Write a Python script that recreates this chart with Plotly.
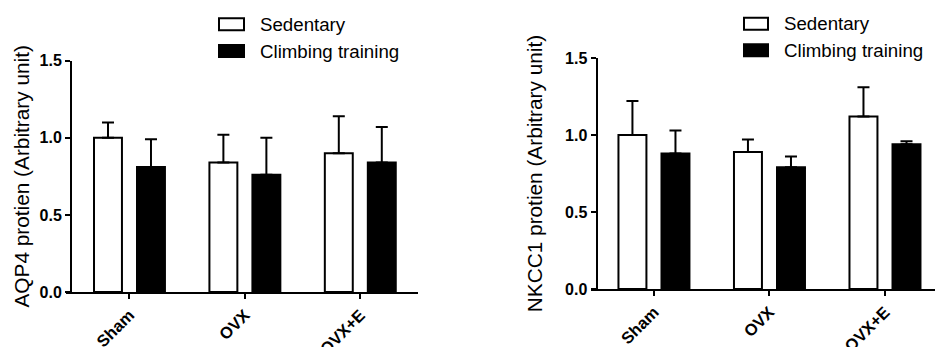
import plotly.graph_objects as go

categories = ["Sham", "OVX", "OVX+E"]
series_names = ["Sedentary", "Climbing training"]

aqp4_sed = [1.00, 0.84, 0.90]
aqp4_sed_err = [0.10, 0.18, 0.24]
aqp4_climb = [0.81, 0.76, 0.84]
aqp4_climb_err = [0.18, 0.24, 0.23]

nkcc1_sed = [1.00, 0.89, 1.12]
nkcc1_sed_err = [0.22, 0.08, 0.19]
nkcc1_climb = [0.88, 0.79, 0.94]
nkcc1_climb_err = [0.15, 0.07, 0.02]

y_ticks = [0.0, 0.5, 1.0, 1.5]
y_tick_text = ["0.0", "0.5", "1.0", "1.5"]

W, H = 935, 347
FONT = "Arial, Liberation Sans, Helvetica, sans-serif"


def px(x):
    return x / W


def py(y):
    return 1 - y / H


fig = go.Figure()

panels = [
    ("x", "y", aqp4_sed, aqp4_sed_err, aqp4_climb, aqp4_climb_err),
    ("x2", "y2", nkcc1_sed, nkcc1_sed_err, nkcc1_climb, nkcc1_climb_err),
]

for xa, ya, sed, sed_err, climb, climb_err in panels:
    fig.add_trace(go.Bar(
        x=categories, y=sed, name=series_names[0], xaxis=xa, yaxis=ya,
        marker=dict(color="white", line=dict(color="black", width=2)),
        error_y=dict(type="data", array=sed_err, arrayminus=[0] * len(sed),
                     symmetric=False, color="black", thickness=2, width=6),
        showlegend=False,
    ))
    fig.add_trace(go.Bar(
        x=categories, y=climb, name=series_names[1], xaxis=xa, yaxis=ya,
        marker=dict(color="black", line=dict(color="black", width=2)),
        error_y=dict(type="data", array=climb_err, arrayminus=[0] * len(climb),
                     symmetric=False, color="black", thickness=2, width=6),
        showlegend=False,
    ))

axis_common = dict(showgrid=False, zeroline=False, showline=True, linecolor="black",
                   linewidth=2, ticks="outside", tickwidth=2, tickcolor="black",
                   ticklen=5, automargin=False)

xcommon = dict(axis_common, type="category", tickangle=-45,
               tickfont=dict(family=FONT, size=16.5, color="black", weight="bold"))
ycommon = dict(axis_common, range=[0, 1.5], tickvals=y_ticks, ticktext=y_tick_text,
               tickfont=dict(family=FONT, size=16, color="black", weight="bold"),
               anchor="free")

fig.update_layout(
    template="none",
    width=W, height=H,
    margin=dict(l=0, r=0, t=0, b=0, pad=0, autoexpand=False),
    paper_bgcolor="white", plot_bgcolor="white",
    barmode="group", bargap=0.255, bargroupgap=0.35,
    xaxis=dict(xcommon, domain=[px(66), px(418)], range=[-0.55, 2.5], anchor="y"),
    yaxis=dict(ycommon, domain=[py(292), py(60.7)], position=px(71),
               title=dict(text="AQP4 protien (Arbitrary unit)", standoff=3,
                          font=dict(family=FONT, size=20.8, color="black"))),
    xaxis2=dict(xcommon, domain=[px(591), 1.0], range=[-0.545, 2.433], anchor="y2"),
    yaxis2=dict(ycommon, domain=[py(289), py(58)], position=px(596.5),
                title=dict(text="NKCC1 protien (Arbitrary unit)", standoff=16,
                           font=dict(family=FONT, size=20.8, color="black"))),
    font=dict(family=FONT, color="black"),
)

# legends drawn as keys + labels
legend_specs = [
    (219, 244, [(18.3, 30.3), (45, 57)], 258),
    (744, 768, [(17.7, 29.7), (44.3, 56.3)], 782),
]
fills = ["white", "black"]
shapes = []
annotations = []
for x0, x1, rows, tx in legend_specs:
    for (y0, y1), fill, name in zip(rows, fills, series_names):
        shapes.append(dict(type="rect", xref="paper", yref="paper",
                           x0=px(x0), x1=px(x1), y0=py(y1), y1=py(y0),
                           line=dict(color="black", width=2), fillcolor=fill))
        annotations.append(dict(xref="paper", yref="paper", x=px(tx), y=py((y0 + y1) / 2),
                                xanchor="left", yanchor="middle", showarrow=False,
                                text=name, font=dict(family=FONT, size=18.7, color="black")))
fig.update_layout(shapes=shapes, annotations=annotations)

fig.write_html("out.html", config={"displayModeBar": False},
               post_script="document.body.style.margin='0';document.body.style.overflow='hidden';")
